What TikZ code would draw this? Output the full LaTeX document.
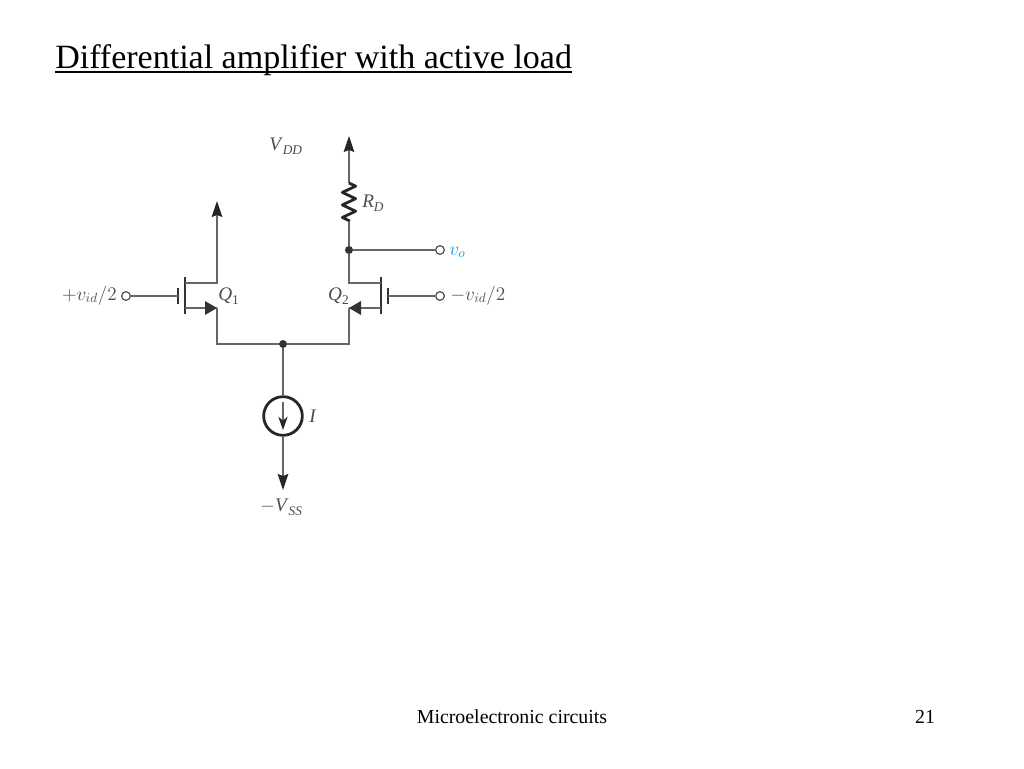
\documentclass[tikz,border=0pt]{standalone}
\usepackage{fontspec}
\setmainfont{Liberation Serif}
\usetikzlibrary{arrows.meta,decorations.pathmorphing}
\newcommand{\itsub}[2]{\textit{#1}\raisebox{-3pt}{\fontsize{10}{11}\selectfont #2}}
\begin{document}
\begin{tikzpicture}[x=0.75pt,y=-0.75pt,%
% common options for wires and plates:
wire/.style = {draw=black!60, line width=1.05pt},
plate/.style = {draw=black!80, line width=2.2pt},
% common options for the circles:
term/.style = {circle, draw=black!70, fill=white, line width=0.9pt, minimum size=6.5pt, inner sep=0},
dot/.style = {circle, fill=black!80, minimum size=6pt, inner sep=0},
lab/.style = {text=black!70, font=\fontsize{14.4}{16}\selectfont, inner sep=0},
tip/.style = {-{Stealth[length=12pt,width=8pt,inset=1.5pt,color=black!85]}}]
\useasboundingbox (0,0) rectangle (1024,768);
\node[anchor=base west, inner sep=0, font=\fontsize{25.5}{28}\selectfont] (title) at (55,68) {Differential amplifier with active load};
\draw[line width=1.1pt] (title.base west)++(0,4) -- ([yshift=-3pt]title.base east);
\node[anchor=base, inner sep=0, font=\fontsize{14.9}{16}\selectfont] (foot) at (512,723) {Microelectronic circuits};
\node[anchor=base, inner sep=0, font=\fontsize{14.9}{16}\selectfont] (page) at (925,723) {21};
% junctions and terminals
\node[dot] (J1) at (349,250) {};
\node[dot] (J2) at (283,344) {};
\node[term] (G1) at (126,296) {};
\node[term] (G2) at (440,296) {};
\node[term] (O) at (440,250) {};
\node[circle, draw=black!85, line width=2.1pt, minimum size=29pt, inner sep=0] (I) at (283,416) {};
\coordinate (VDD) at (349,136);
\coordinate (RT) at (349,183);
\coordinate (RB) at (349,221);
\coordinate (D1up) at (217,201);
\coordinate (VSS) at (283,490);
% Q1
\coordinate (P1a) at (178,288);
\coordinate (P1b) at (178,304);
\coordinate (C1a) at (185,277);
\coordinate (C1b) at (185,314);
\coordinate (D1) at (185,283);
\coordinate (S1) at (185,308);
\coordinate (A1) at (217,308);
\coordinate (L1) at (217,344);
\coordinate (DC1) at (217,283);
% Q2
\coordinate (P2a) at (388,288);
\coordinate (P2b) at (388,304);
\coordinate (C2a) at (381,277);
\coordinate (C2b) at (381,314);
\coordinate (D2) at (381,283);
\coordinate (S2) at (381,308);
\coordinate (A2) at (349,308);
\coordinate (L2) at (349,344);
\coordinate (DC2) at (349,283);
% transistors
\draw[plate] (P1a) -- (P1b);
\draw[plate] (C1a) -- (C1b);
\draw[plate] (P2a) -- (P2b);
\draw[plate] (C2a) -- (C2b);
\draw[wire] (G1) -- (178,296);
\draw[wire] (G2) -- (388,296);
\draw[wire,tip] (D1) -- (DC1) -- (D1up);
\draw[wire] (D2) -- (DC2) -- (J1);
\draw[wire] (S1) -- (A1);
\draw[wire] (S2) -- (A2);
\fill[black!80] (A1) -- (205,301) -- (205,315) -- cycle;
\fill[black!80] (A2) -- (361,301) -- (361,315) -- cycle;
\draw[wire] (A1) -- (L1) -- (J2);
\draw[wire] (A2) -- (L2) -- (J2);
% drain branch
\draw[wire,tip] (RT) -- (VDD);
\draw[wire] (RB) -- (J1);
\draw[wire] (J1) -- (O);
\draw[draw=black!85, line width=2.1pt, line join=round, decorate, decoration={zigzag,segment length=9.4pt,amplitude=5pt}] (RT) -- (RB);
% current source
\draw[wire] (J2) -- (I);
\draw[wire,tip] (I) -- (VSS);
\draw[wire,-{Stealth[length=10pt,width=7pt,inset=3pt,color=black!85]}] (283,402) -- (283,430);
% labels
\node[lab, anchor=base west] (lVDD) at (269,150) {\itsub{V}{\textit{DD}}};
\node[lab, anchor=base west] (lRD) at (362,207) {\itsub{R}{\textit{D}}};
\node[lab, anchor=base west] (lvo) at (449,255) {\textcolor{cyan!85!blue}{$v_{o}$}};
\node[lab, anchor=base east] (lG1) at (117,300) {$+v_{id}/2$};
\node[lab, anchor=base west] (lG2) at (450,300) {$-v_{id}/2$};
\node[lab, anchor=base west] (lQ1) at (218,300) {\itsub{Q}{1}};
\node[lab, anchor=base east] (lQ2) at (349,300) {\itsub{Q}{2}};
\node[lab, anchor=base west] (lI) at (309,422) {\textit{I}};
\node[lab, anchor=base] (lVSS) at (281,511) {$-$\itsub{V}{\textit{SS}}};
\end{tikzpicture}
\end{document}
